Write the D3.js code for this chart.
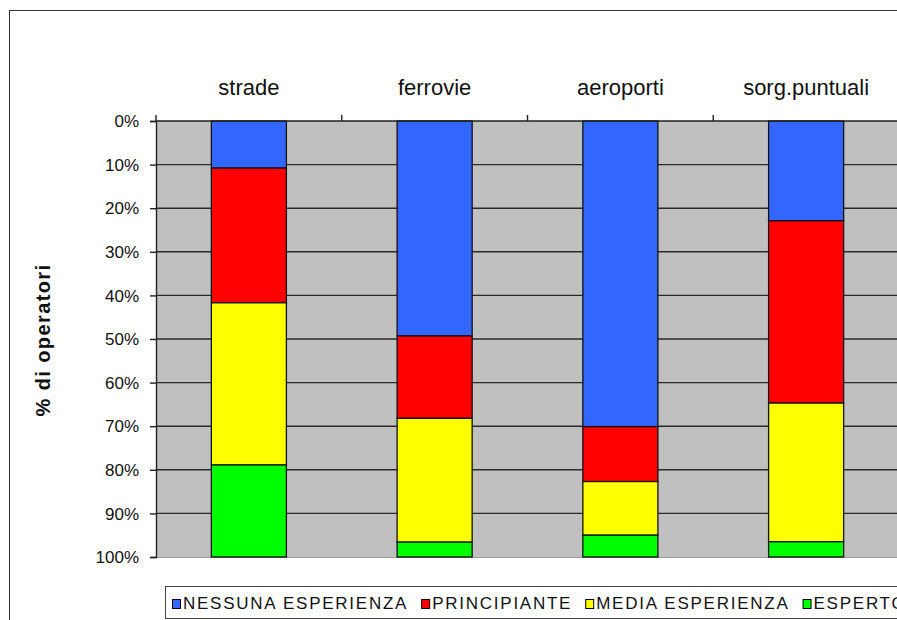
<!DOCTYPE html>
<html>
<head>
<meta charset="utf-8">
<script src="https://cdn.jsdelivr.net/npm/d3@7"></script>
<style>
  html, body { margin: 0; padding: 0; background: #fff; overflow: hidden; }
  text { font-family: "Liberation Sans", Arial, sans-serif; fill: #111; }
</style>
</head>
<body>
<svg id="chart" width="897" height="620"></svg>
<script>
const categories = ["strade", "ferrovie", "aeroporti", "sorg.puntuali"];
const seriesNames = ["NESSUNA ESPERIENZA", "PRINCIPIANTE", "MEDIA ESPERIENZA", "ESPERTO"];
const seriesColors = ["#3366FF", "#FF0000", "#FFFF00", "#00FF00"];
const nessuna = [10.8, 49.3, 70.1, 22.9];
const principiante = [30.9, 18.9, 12.6, 41.8];
const media = [37.2, 28.4, 12.3, 31.8];
const esperto = [21.1, 3.4, 5.0, 3.5];
const yTicks = [0, 10, 20, 30, 40, 50, 60, 70, 80, 90, 100];
const yTitle = "% di operatori";

(function () {
const seriesValues = [nessuna, principiante, media, esperto];
const rows = categories.map((c, i) => {
  const r = { cat: c };
  seriesNames.forEach((s, j) => r[s] = seriesValues[j][i]);
  return r;
});
const stacked = d3.stack().keys(seriesNames)(rows);

const svg = d3.select("#chart");
const pLeft = 156, pRight = 899, pTop = 121, pBottom = 557;

const x = d3.scaleBand().domain(categories).range([pLeft, pRight])
  .paddingInner(0.596).paddingOuter(0.298);
const y = d3.scaleLinear().domain([0, 100]).range([pTop, pBottom]);

// outer frame
svg.append("rect").attr("x", 9.5).attr("y", 10.5).attr("width", 1000).attr("height", 1000)
  .attr("fill", "none").attr("stroke", "#333").attr("stroke-width", 1);

// plot background
svg.append("rect").attr("x", pLeft).attr("y", pTop).attr("width", 900 - pLeft).attr("height", pBottom - pTop)
  .attr("fill", "#C0C0C0");

// gridlines
svg.append("g").selectAll("line").data(yTicks.filter(t => t > 0 && t < 100)).join("line")
  .attr("x1", pLeft).attr("x2", 900)
  .attr("y1", d => y(d)).attr("y2", d => y(d))
  .attr("stroke", "#2a2a2a").attr("stroke-width", 1.4);
svg.append("line").attr("x1", pLeft).attr("x2", 900).attr("y1", pBottom + 0.5).attr("y2", pBottom + 0.5)
  .attr("stroke", "#9a9a9a").attr("stroke-width", 1);

// bars
svg.append("g").selectAll("g").data(stacked).join("g")
  .attr("fill", (d, i) => seriesColors[i])
  .selectAll("rect").data(d => d).join("rect")
  .attr("x", d => x(d.data.cat))
  .attr("width", x.bandwidth())
  .attr("y", d => y(d[0]))
  .attr("height", d => y(d[1]) - y(d[0]))
  .attr("stroke", "#111").attr("stroke-width", 1.3);

// left axis
const yAxis = d3.axisLeft(y).tickValues(yTicks).tickFormat(d => d + "%").tickSize(6).tickPadding(11);
const ga = svg.append("g").attr("transform", `translate(${pLeft},0)`).call(yAxis);
ga.select(".domain").attr("stroke", "#222").attr("stroke-width", 1.4);
ga.selectAll(".tick line").attr("stroke", "#222").attr("stroke-width", 1.4);
ga.selectAll(".tick text").attr("font-size", 17).attr("font-family", "Liberation Sans, Arial, sans-serif")
  .attr("fill", "#111").attr("dy", "0.33em");

// top axis line with ticks between categories
const step = x.step();
const boundaries = categories.map((c, i) => pLeft + i * step).concat([pLeft + categories.length * step]);
svg.append("line").attr("x1", pLeft).attr("x2", 900).attr("y1", pTop).attr("y2", pTop)
  .attr("stroke", "#222").attr("stroke-width", 1.4);
svg.append("g").selectAll("line").data(boundaries).join("line")
  .attr("x1", d => d).attr("x2", d => d).attr("y1", pTop).attr("y2", pTop - 6)
  .attr("stroke", "#222").attr("stroke-width", 1.4);

// category labels
svg.append("g").selectAll("text").data(categories).join("text")
  .attr("x", d => x(d) + x.bandwidth() / 2)
  .attr("y", 95)
  .attr("text-anchor", "middle")
  .attr("font-size", 22)
  .text(d => d);

// y title
svg.append("text").attr("transform", "translate(50,340) rotate(-90)")
  .attr("text-anchor", "middle").attr("font-size", 20).attr("font-weight", "bold")
  .attr("letter-spacing", 1.4)
  .text(yTitle);

// legend
const lg = svg.append("g");
lg.append("rect").attr("x", 165.5).attr("y", 586.5).attr("width", 800).attr("height", 32)
  .attr("fill", "#fff").attr("stroke", "#444").attr("stroke-width", 1);
let lx = 172;
seriesNames.forEach((s, i) => {
  lg.append("rect").attr("x", lx + 0.5).attr("y", 599.5).attr("width", 8).attr("height", 9)
    .attr("fill", seriesColors[i]).attr("stroke", "#000").attr("stroke-width", 1);
  const t = lg.append("text").attr("x", lx + 11).attr("y", 609)
    .attr("font-size", 17).attr("letter-spacing", 1.75).text(s);
  const w = t.node().getComputedTextLength();
  lx = lx + 11 + w + 13;
});
})();
</script>
</body>
</html>
